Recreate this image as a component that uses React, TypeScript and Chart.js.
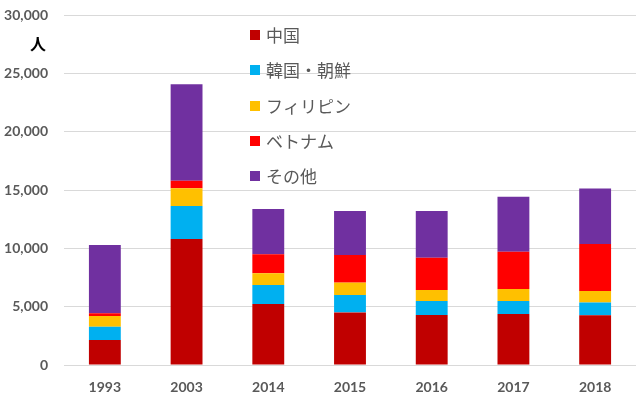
import React, { useEffect, useRef } from "react";
import { Chart, registerables } from "chart.js";

Chart.register(...registerables);

const years = ["1993", "2003", "2014", "2015", "2016", "2017", "2018"];
const seriesNames = ["中国", "韓国・朝鮮", "フィリピン", "ベトナム", "その他"];
const china = [2150, 10800, 5230, 4510, 4290, 4370, 4260];
const korea = [1130, 2830, 1630, 1490, 1200, 1110, 1090];
const philippines = [920, 1510, 1000, 1060, 940, 1030, 1000];
const vietnam = [230, 660, 1630, 2370, 2770, 3200, 4030];
const others = [5860, 8260, 3880, 3770, 4000, 4710, 4740];
const seriesColors = ["#C00000", "#00B0F0", "#FFC000", "#FF0000", "#7030A0"];
const yTicks = [0, 5000, 10000, 15000, 20000, 25000, 30000];
const unitLabel = "人";

const numFont = "Lato, 'Liberation Sans', sans-serif";
const jpFont = "'Noto Sans CJK JP', sans-serif";

const overlayPlugin = {
  id: "overlay",
  afterDraw(chart: any) {
    const ctx = chart.ctx;
    ctx.save();
    // unit label
    ctx.fillStyle = "#000000";
    ctx.font = `bold 16px ${jpFont}`;
    ctx.textAlign = "center";
    ctx.textBaseline = "middle";
    ctx.fillText(unitLabel, 38, 44);
    // legend
    const x0 = 250;
    const ys = [35, 70, 106, 141, 176];
    ctx.textAlign = "left";
    ctx.font = `17px ${jpFont}`;
    chart.data.datasets.forEach((ds: any, i: number) => {
      ctx.fillStyle = ds.backgroundColor;
      ctx.fillRect(x0, ys[i] - 5, 10, 10);
      ctx.fillStyle = "#595959";
      ctx.fillText(ds.label, x0 + 16, ys[i] + 1);
    });
    ctx.restore();
  },
};

export default function App() {
  const ref = useRef<HTMLCanvasElement | null>(null);
  useEffect(() => {
    document.body.style.margin = "0";
    const values = [china, korea, philippines, vietnam, others];
    const chart = new Chart(ref.current as HTMLCanvasElement, {
      type: "bar",
      data: {
        labels: years,
        datasets: seriesNames.map((name, i) => ({
          label: name,
          data: values[i],
          backgroundColor: seriesColors[i],
          borderWidth: 0,
          categoryPercentage: 1,
          barPercentage: 0.39,
        })),
      },
      options: {
        responsive: false,
        animation: false,
        layout: { padding: { top: 15, right: 4, left: 0, bottom: 0 } },
        plugins: { legend: { display: false }, tooltip: { enabled: false } },
        scales: {
          x: {
            stacked: true,
            grid: { display: false, drawTicks: false },
            border: { display: false },
            ticks: {
              color: "#595959",
              font: { family: numFont, size: 14, weight: "bold" },
              padding: 14,
            },
            afterFit(scale: any) {
              scale.height = 33;
              scale.paddingLeft = 0;
              scale.paddingRight = 0;
            },
          },
          y: {
            stacked: true,
            min: 0,
            max: 30000,
            afterBuildTicks(scale: any) {
              scale.ticks = yTicks.map((v) => ({ value: v }));
            },
            grid: { color: "#D9D9D9", drawTicks: false, lineWidth: 1 },
            border: { display: false },
            ticks: {
              color: "#595959",
              font: { family: numFont, size: 14, weight: "bold" },
              padding: 16,
              callback: (v: any) => Number(v).toLocaleString("en-US"),
            },
            afterFit(scale: any) {
              scale.width = 64;
              scale.paddingTop = 0;
              scale.paddingBottom = 0;
            },
          },
        },
      },
      plugins: [overlayPlugin],
    });
    return () => chart.destroy();
  }, []);
  return <canvas ref={ref} width={640} height={398} style={{ display: "block" }} />;
}
